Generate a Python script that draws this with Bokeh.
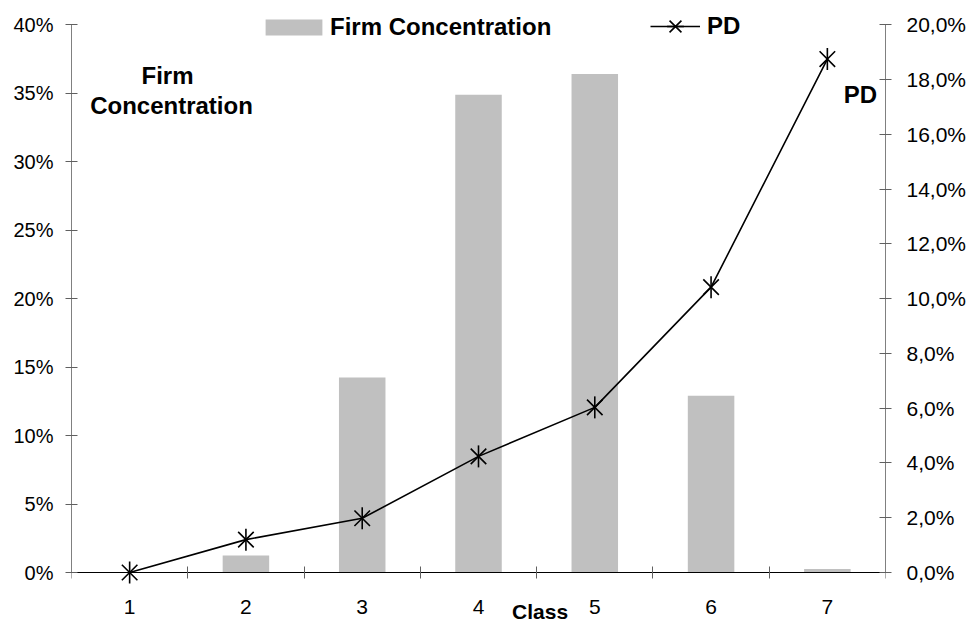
import math
from bokeh.plotting import figure
from bokeh.models import (Range1d, LinearAxis, FixedTicker, CustomJSTickFormatter,
                          Legend, LegendItem, Label, ColumnDataSource)
from bokeh.core.properties import value
from bokeh.embed import file_html
from bokeh.resources import INLINE

# ---- data ----
classes = ["1", "2", "3", "4", "5", "6", "7"]
firm_concentration = [0.0, 1.25, 14.25, 34.9, 36.4, 12.9, 0.25]   # % (left axis)
pd_values = [0.0, 1.2, 1.98, 4.24, 6.03, 10.42, 18.75]            # % (right axis)
left_ticks = [0, 5, 10, 15, 20, 25, 30, 35, 40]
right_ticks = [0, 2, 4, 6, 8, 10, 12, 14, 16, 18, 20]

xpos = [i + 1 for i in range(len(classes))]
src = ColumnDataSource(dict(x=xpos, fc=firm_concentration, pd=pd_values, label=classes))

FONT = "Liberation Sans"

# ---- layout (pixels) ----
FRAME_W = 814
FRAME_H = 615
TOP = 8
ZERO_FROM_TOP = 564          # pixel row of the 0 line, measured from frame top
AXIS_PX = 547.7              # pixels between 0 and top tick
scale = AXIS_PX / left_ticks[-1]
y_lo = -(FRAME_H - ZERO_FROM_TOP) / scale
y_hi = left_ticks[-1] + (ZERO_FROM_TOP - AXIS_PX) / scale
ratio = right_ticks[-1] / left_ticks[-1]

p = figure(frame_width=FRAME_W, frame_height=FRAME_H,
           x_range=Range1d(0.5, len(classes) + 0.5), y_range=Range1d(y_lo, y_hi),
           output_backend="svg", toolbar_location=None,
           x_axis_location=None, y_axis_location=None,
           min_border_left=71, min_border_top=TOP, min_border_right=0, min_border_bottom=0)
p.extra_y_ranges = {"pd": Range1d(y_lo * ratio, y_hi * ratio)}
p.outline_line_color = None
p.xgrid.visible = False
p.ygrid.visible = False
p.background_fill_color = "white"

# ---- axes ----
xaxis = LinearAxis(
    fixed_location=0,
    ticker=FixedTicker(ticks=[], minor_ticks=[i + 0.5 for i in range(len(classes) + 1)]),
    major_tick_in=0, major_tick_out=0, minor_tick_in=6, minor_tick_out=6,
    axis_line_color="black", minor_tick_line_color="#606060",
    major_label_standoff=0)
p.add_layout(xaxis, "below")

yaxis = LinearAxis(
    bounds=(left_ticks[0], left_ticks[-1]),
    ticker=FixedTicker(ticks=left_ticks, minor_ticks=[]),
    formatter=CustomJSTickFormatter(code="return tick + '%';"),
    major_tick_in=6, major_tick_out=6, minor_tick_in=0, minor_tick_out=0,
    axis_line_color="#808080", major_tick_line_color="#606060",
    major_label_standoff=12, major_label_text_font=FONT,
    major_label_text_font_size="20px", major_label_text_color="black")
p.add_layout(yaxis, "left")

raxis = LinearAxis(
    y_range_name="pd", bounds=(right_ticks[0], right_ticks[-1]),
    ticker=FixedTicker(ticks=right_ticks, minor_ticks=[]),
    formatter=CustomJSTickFormatter(code="return tick.toFixed(1).replace('.', ',') + '%';"),
    major_tick_in=6, major_tick_out=6, minor_tick_in=0, minor_tick_out=0,
    axis_line_color="#808080", major_tick_line_color="#606060",
    major_label_standoff=15, major_label_text_font=FONT,
    major_label_text_font_size="21px", major_label_text_color="black")
p.add_layout(raxis, "right")

# ---- glyphs ----
bars = p.vbar(x="x", top="fc", width=0.4, source=src, fill_color="#c0c0c0", line_color=None)
line = p.line("x", "pd", source=src, y_range_name="pd", line_color="black", line_width=1.6)
mx = p.scatter("x", "pd", source=src, y_range_name="pd", marker="x", size=22,
               line_color="black", line_width=1.6)
mv = p.scatter("x", "pd", source=src, y_range_name="pd", marker="dash", size=22,
               angle=math.pi / 2, line_color="black", line_width=1.6)

# category labels under the 0 line
label_y = -27 / scale
p.text(x="x", y=label_y, text="label", source=src, text_font=value(FONT),
       text_font_size="21px", text_color="black", text_align="center",
       text_baseline="top")

# ---- legends ----
common = dict(orientation="horizontal", padding=0, margin=0, spacing=0,
              border_line_color=None, background_fill_alpha=0,
              label_text_font=FONT, label_text_font_style="bold",
              label_text_font_size="24px", label_text_color="black")
leg1 = Legend(items=[LegendItem(label="Firm Concentration", renderers=[bars])],
              location=(187, 582), glyph_width=71, glyph_height=20, label_standoff=1, **common)
leg2 = Legend(items=[LegendItem(label="PD", renderers=[line, mx, mv])],
              location=(579, 576), glyph_width=50, glyph_height=42, label_standoff=7, **common)
p.add_layout(leg1)
p.add_layout(leg2)

# ---- text labels ----
lab = dict(text_font=FONT, text_font_style="bold", text_color="black", text_align="center")
p.add_layout(Label(x=96, y=548, x_units="screen", y_units="screen", text="Firm",
                   text_font_size="24px", text_baseline="alphabetic", **lab))
p.add_layout(Label(x=100, y=518, x_units="screen", y_units="screen", text="Concentration",
                   text_font_size="24px", text_baseline="alphabetic", **lab))
p.add_layout(Label(x=789, y=529, x_units="screen", y_units="screen", text="PD",
                   text_font_size="24px", text_baseline="alphabetic", **lab))
p.add_layout(Label(x=4.53, y=label_y, x_units="data", y_units="data", text="Class",
                   text_font_size="21px", text_baseline="top", **lab))

open("out.html", "w").write(file_html(p, INLINE))
